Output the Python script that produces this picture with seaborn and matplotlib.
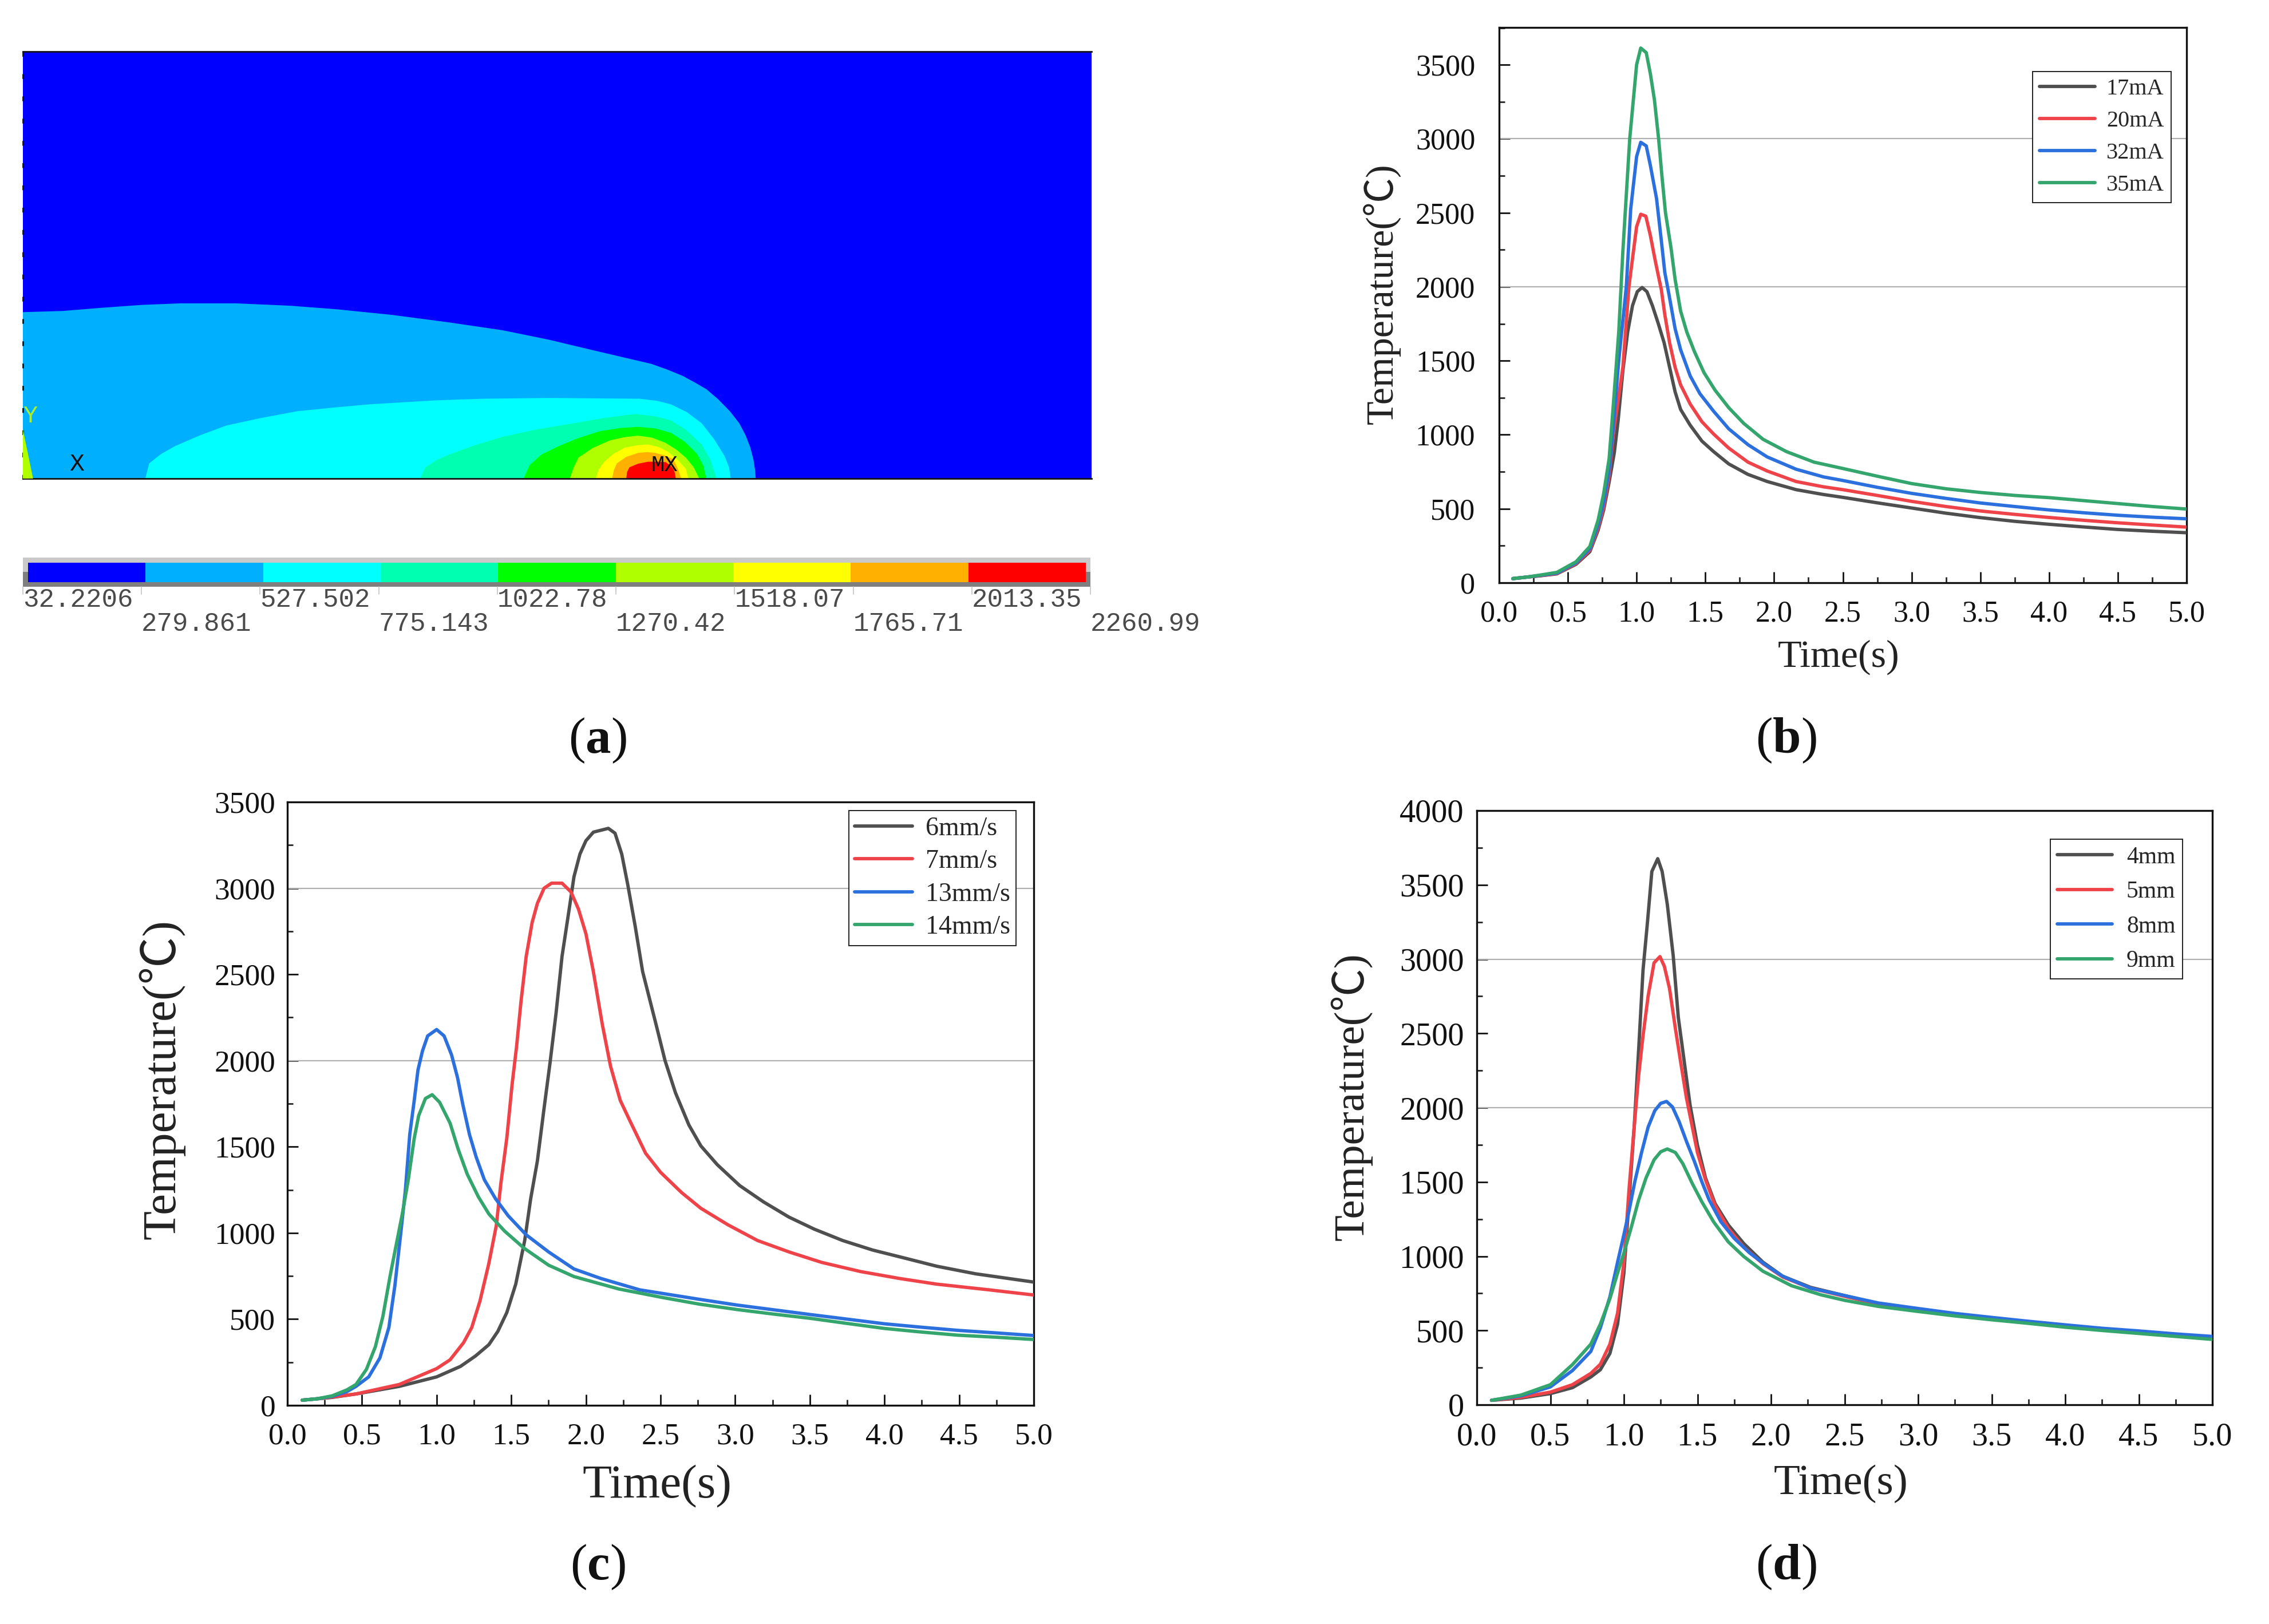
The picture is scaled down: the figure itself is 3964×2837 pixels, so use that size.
import numpy as np
import pandas as pd
import matplotlib
matplotlib.use("Agg")
import matplotlib.pyplot as plt
from matplotlib.colors import ListedColormap
import seaborn as sns

W, H = 3964, 2837
sns.set_style("ticks")
plt.rcParams["font.family"] = ["Liberation Serif", "Noto Sans CJK SC", "DejaVu Sans"]
plt.rcParams["mathtext.fontset"] = "custom"
plt.rcParams["mathtext.bf"] = "Liberation Serif:bold"
plt.rcParams["mathtext.rm"] = "Liberation Serif"

# ---------- panel (b): current ----------
tb35 = [.1,.2,.3,.42,.56,.66,.72,.76,.80,.83,.87,.90,.95,.97,1.0,1.03,1.07,1.10,1.13,1.16,1.185,1.21,1.25,1.28,1.32,1.365,1.42,1.49,1.57,1.67,1.78,1.92,2.09,2.29,2.5,2.75,3,3.25,3.5,3.75,4,4.25,4.5,4.75,5]
b35 = [28,38,52,70,142,245,423,600,838,1195,1694,2240,3000,3200,3500,3613,3582,3440,3260,3000,2740,2500,2264,2050,1836,1694,1563,1420,1302,1183,1076,969,886,815,772,720,670,635,610,590,575,555,535,515,498]
tb32 = [.1,.2,.3,.42,.56,.66,.72,.76,.80,.83,.87,.925,.957,1.0,1.03,1.07,1.10,1.145,1.18,1.205,1.234,1.28,1.32,1.39,1.46,1.56,1.67,1.81,1.95,2.16,2.36,2.5,2.75,3,3.25,3.5,3.75,4,4.25,4.5,4.75,5]
b32 = [28,38,50,65,135,230,390,540,760,1050,1500,2000,2525,2880,2976,2952,2820,2596,2310,2097,1955,1717,1575,1397,1278,1159,1040,933,850,767,715,691,645,604,570,539,515,492,473,456,443,432]
tb20 = [.1,.2,.3,.42,.56,.66,.72,.76,.80,.83,.90,.944,.977,1.0,1.03,1.067,1.10,1.137,1.18,1.205,1.24,1.28,1.32,1.39,1.475,1.56,1.67,1.81,1.95,2.16,2.36,2.5,2.75,3,3.25,3.5,3.75,4,4.25,4.5,4.75,5]
b20 = [28,38,48,62,130,220,370,510,720,1000,1456,2000,2240,2406,2490,2477,2347,2169,1979,1812,1622,1456,1337,1207,1088,1005,910,815,755,684,648,629,590,550,515,485,462,441,422,405,390,376]
tb17 = [.1,.2,.3,.42,.56,.66,.72,.76,.80,.838,.866,.90,.935,.97,1.005,1.04,1.075,1.115,1.157,1.2,1.24,1.28,1.32,1.39,1.475,1.56,1.67,1.81,1.95,2.16,2.36,2.5,2.75,3,3.25,3.5,3.75,4,4.25,4.5,4.75,5]
b17 = [28,38,47,60,125,210,355,490,680,880,1100,1432,1694,1872,1967,1995,1967,1872,1753,1622,1456,1290,1171,1064,957,886,803,732,684,629,596,577,540,505,470,440,415,395,377,360,348,338]
labels_b = ["17mA", "20mA", "32mA", "35mA"]

# ---------- panel (c): scan speed ----------
tc6 = [.1,.2,.3,.46,.75,1,1.16,1.26,1.35,1.41,1.47,1.53,1.59,1.63,1.675,1.72,1.76,1.80,1.84,1.89,1.92,1.96,2.0,2.05,2.10,2.15,2.195,2.24,2.28,2.33,2.38,2.47,2.53,2.60,2.69,2.77,2.88,3.03,3.19,3.36,3.53,3.72,3.92,4.15,4.35,4.61,5]
c6 = [30,38,46,66,110,165,226,286,352,429,538,703,956,1198,1418,1725,1989,2275,2604,2890,3066,3198,3275,3325,3336,3347,3319,3198,3022,2780,2516,2209,2000,1813,1626,1505,1396,1275,1180,1092,1022,956,901,851,807,763,715]
tc7 = [.1,.2,.3,.46,.75,1,1.09,1.18,1.235,1.29,1.35,1.40,1.43,1.47,1.505,1.535,1.565,1.60,1.64,1.675,1.72,1.77,1.84,1.90,1.95,2.0,2.05,2.11,2.165,2.23,2.29,2.40,2.5,2.64,2.77,2.95,3.15,3.36,3.58,3.84,4.10,4.35,4.70,5]
c7 = [30,38,48,66,121,213,264,363,451,604,824,1044,1286,1549,1857,2077,2341,2604,2802,2912,3000,3029,3029,2978,2879,2736,2516,2209,1967,1769,1659,1462,1352,1235,1143,1048,956,890,829,776,736,703,670,640]
tc13 = [.1,.2,.3,.4,.46,.545,.62,.68,.72,.76,.79,.82,.85,.875,.905,.94,1.0,1.05,1.10,1.14,1.175,1.22,1.265,1.32,1.395,1.48,1.60,1.75,1.92,2.10,2.36,2.76,3.01,3.25,3.5,3.75,4,4.25,4.49,4.75,5]
c13 = [30,38,52,80,110,165,275,451,692,1000,1242,1571,1769,1945,2055,2143,2180,2143,2033,1901,1747,1571,1440,1308,1198,1099,989,890,791,736,670,615,582,555,527,500,473,453,435,420,405]
tc14 = [.1,.2,.3,.4,.46,.53,.59,.64,.69,.735,.77,.81,.85,.88,.925,.97,1.02,1.09,1.145,1.205,1.28,1.35,1.455,1.585,1.75,1.92,2.22,2.51,2.76,3.01,3.25,3.5,3.75,4,4.25,4.49,4.75,5]
c14 = [30,38,55,90,121,209,341,516,758,956,1110,1308,1549,1681,1780,1802,1758,1637,1484,1341,1209,1110,1011,912,813,747,675,626,587,556,530,505,475,446,425,407,395,382]
labels_c = ["6mm/s", "7mm/s", "13mm/s", "14mm/s"]

# ---------- panel (d): spot size ----------
td4 = [.1,.3,.5,.65,.775,.84,.905,.957,1,1.035,1.07,1.10,1.13,1.16,1.19,1.23,1.26,1.295,1.335,1.37,1.41,1.45,1.50,1.555,1.62,1.71,1.815,1.945,2.08,2.27,2.5,2.73,3,3.25,3.5,3.75,4,4.25,4.5,4.75,5]
d4 = [30,45,75,115,187,236,346,543,887,1378,1870,2386,2926,3246,3590,3676,3590,3369,3025,2607,2312,2017,1747,1526,1354,1210,1085,960,865,790,735,680,640,607,580,553,530,505,485,465,445]
td5 = [.1,.3,.5,.65,.775,.84,.905,.957,1,1.035,1.07,1.10,1.13,1.165,1.205,1.245,1.275,1.31,1.35,1.385,1.425,1.465,1.50,1.555,1.62,1.71,1.815,1.945,2.08,2.27,2.5,2.73,3,3.25,3.5,3.75,4,4.25,4.5,4.75,5]
d5 = [30,50,85,135,211,273,408,617,960,1452,1870,2214,2484,2754,2975,3017,2951,2803,2533,2312,2066,1870,1698,1513,1342,1187,1060,950,860,785,730,678,638,605,578,552,528,503,483,463,443]
td8 = [.1,.3,.5,.65,.775,.84,.905,.957,1,1.035,1.074,1.12,1.165,1.21,1.25,1.29,1.33,1.375,1.426,1.48,1.53,1.58,1.66,1.75,1.855,1.97,2.08,2.27,2.5,2.73,3,3.25,3.5,3.75,4,4.25,4.5,4.75,5]
d8 = [30,60,120,230,359,518,727,960,1145,1305,1501,1698,1870,1980,2029,2042,2005,1907,1771,1636,1501,1378,1231,1120,1022,936,865,785,735,685,648,615,588,562,538,515,497,477,460]
td9 = [.1,.3,.5,.65,.775,.84,.905,.957,1,1.05,1.10,1.15,1.205,1.25,1.295,1.35,1.40,1.465,1.53,1.61,1.71,1.815,1.945,2.14,2.34,2.5,2.73,3,3.25,3.5,3.75,4,4.25,4.5,4.75,5]
d9 = [30,65,135,270,408,543,715,887,1022,1194,1378,1526,1649,1703,1722,1698,1624,1489,1366,1231,1096,998,899,801,740,703,662,628,598,572,548,522,500,480,460,440]
labels_d = ["4mm", "5mm", "8mm", "9mm"]

palette = ["#4f4f4f", "#ee4449", "#2b70dd", "#34a56c"]
xtick_vals = [0.0, 0.5, 1.0, 1.5, 2.0, 2.5, 3.0, 3.5, 4.0, 4.5, 5.0]

# ---------- panel (a): contour bands (outer to inner), in map units of the field ----------
band_colors = ["#00b0ff", "#00ffff", "#00ffb0", "#00ff00", "#b0ff00", "#ffff00", "#ffb000", "#ff0000"]
band_x = [
    [29,29,80,130,180,230,300,370,430,500,570,640,700,760,830,850,870,885,900,915,930,942,950,956,960,962,963],
    [185,190,205,223,255,288,330,379,425,470,555,614,700,815,837,855,875,894,910,923,929,931],
    [535,542,556,575,605,640,685,731,770,809,835,855,875,894,905,913],
    [667,675,690,712,737,764,790,813,835,855,873,888,896,900],
    [726,731,737,755,777,795,813,831,848,862,874,884,891],
    [759,763,770,782,796,812,826,840,851,864,874,877],
    [780,782,786,798,813,825,835,848,858,864,868],
    [798,799,802,813,826,838,848,854,858,860,861],
]
band_y = [
    [1108,693,690,682,675,671,671,677,686,700,718,738,762,790,822,836,852,868,885,910,940,970,1000,1030,1060,1085,1108],
    [1108,1070,1047,1027,1000,976,958,940,931,923,913,909,907,909,914,923,942,970,1010,1051,1080,1108],
    [1108,1080,1062,1046,1025,1004,985,970,957,947,953,963,988,1023,1060,1108],
    [1108,1074,1048,1027,1007,990,982,979,983,994,1017,1046,1075,1108],
    [1108,1080,1056,1032,1013,1005,1001,1006,1019,1036,1056,1080,1108],
    [1108,1085,1066,1046,1031,1025,1023,1030,1041,1062,1084,1108],
    [1108,1088,1070,1054,1044,1042,1044,1051,1060,1085,1108],
    [1108,1092,1080,1071,1066,1066,1067,1075,1084,1095,1108],
]
wedge_x = [29, 29, 42]
wedge_y = [1108, 985, 1108]
level_labels = ["32.2206", "279.861", "527.502", "775.143", "1022.78",
                "1270.42", "1518.07", "1765.71", "2013.35", "2260.99"]
level_colors = ["#0000ff"] + band_colors


def add_ax(l, t, r, b):
    return fig.add_axes([l / W, 1 - b / H, (r - l) / W, (b - t) / H])


def line_panel(box, ylim, ymajor, series, labels, tick_fs, label_fs, pads, xl_px, yl_px, leg_xy, leg_fs, leg_kw):
    l, t, r, b = box
    ax = add_ax(l, t, r, b)
    frames = [pd.DataFrame({"Time": s[0], "Temp": s[1], "Series": n}) for s, n in zip(series, labels)]
    df = pd.concat(frames, ignore_index=True)
    for g in [2000, 3000]:
        ax.axhline(g, color="#b0b0b0", lw=1.6, zorder=1)
    sns.lineplot(data=df, x="Time", y="Temp", hue="Series", hue_order=labels, palette=palette,
                 estimator=None, sort=False, lw=4.2, ax=ax, zorder=3)
    ax.set_xlim(0, 5)
    ax.set_ylim(*ylim)
    ax.set_xticks(xtick_vals)
    ax.set_xticklabels(["%.1f" % v for v in xtick_vals])
    ax.set_xticks(np.arange(0.25, 5, 0.5), minor=True)
    ax.set_yticks(ymajor)
    ax.set_yticks([v + 250 for v in ymajor if v + 250 < ylim[1]], minor=True)
    ax.tick_params(axis="both", which="major", direction="in", length=14, width=2, labelsize=tick_fs, colors="#111111")
    ax.tick_params(axis="both", which="minor", direction="in", length=7, width=2)
    ax.tick_params(axis="x", which="major", pad=pads[0])
    ax.tick_params(axis="y", which="major", pad=pads[1])
    for s in ax.spines.values():
        s.set_linewidth(2.4)
        s.set_color("#111111")
    ax.set_xlabel("")
    ax.set_ylabel("")
    fig.text(xl_px[0] / W, 1 - xl_px[1] / H, "Time(s)", ha="center", va="center", fontsize=label_fs, color="#222222")
    fig.text(yl_px[0] / W, 1 - yl_px[1] / H, "Temperature(℃)", ha="center", va="center", rotation=90,
             fontsize=label_fs, color="#222222")
    handles, names = ax.get_legend_handles_labels()
    leg = ax.legend(handles, names, loc="upper left",
                    bbox_to_anchor=((leg_xy[0] - l) / (r - l), 1 - (leg_xy[1] - t) / (b - t)),
                    fontsize=leg_fs, frameon=True, fancybox=False, framealpha=1, edgecolor="#222222",
                    borderaxespad=0, **leg_kw)
    leg.get_frame().set_linewidth(1.4)
    for h in leg.get_lines():
        h.set_linewidth(4.2)
    leg.set_zorder(5)
    return ax


fig = plt.figure(figsize=(W / 100, H / 100), dpi=100, facecolor="white")

# panel (a)
ax_a = add_ax(40, 90, 1907, 836)
ax_a.set_facecolor("#0000ff")
ax_a.set_xlim(29, 1391)
ax_a.set_ylim(1108, 43)
for bx, by, bc in zip(band_x, band_y, band_colors):
    ax_a.fill(bx, by, color=bc, lw=0, zorder=2)
ax_a.fill(wedge_x, wedge_y, color="#b0ff00", lw=0, zorder=3)
ax_a.set_xticks([])
ax_a.set_yticks([])
ax_a.spines["right"].set_visible(False)
ax_a.spines["left"].set_linestyle((0, (2, 12)))
for s in ax_a.spines.values():
    s.set_linewidth(2)
    s.set_color("#151515")
ax_a.text(38, 952, "Y", color="#a8ef30", fontsize=30, family="Liberation Mono", ha="center", va="center")
ax_a.text(98, 1072, "X", color="#101010", fontsize=31, family="Liberation Mono", ha="center", va="center")
ax_a.text(847, 1075, "MX", color="#101010", fontsize=28, family="Liberation Mono", ha="center", va="center")

# colour legend of panel (a)
frame = add_ax(40, 974, 1905, 1025)
frame.set_xlim(0, 1)
frame.set_ylim(0, 1)
frame.axis("off")
frame.axhspan(0.5, 1, color="#c9c9c9", lw=0)
frame.axhspan(0, 0.5, color="#7f7f7f", lw=0)
cb = add_ax(49, 983, 1897, 1017)
levels = np.arange(len(level_colors)).reshape(1, -1)
sns.heatmap(levels, ax=cb, cmap=ListedColormap(level_colors), cbar=False, xticklabels=False, yticklabels=False,
            linewidths=0)
for k, lab in enumerate(level_labels):
    px = 40 + k * (1905 - 40) / 9
    ypx = 1048 if k % 2 == 0 else 1090
    fig.text(px / W, 1 - ypx / H, lab, ha="left", va="center", fontsize=33, family="Liberation Mono", color="#4a4a4a")
    fig.add_artist(plt.Line2D([px / W, px / W], [1 - 1025 / H, 1 - 1038 / H], color="#c4c4c4", lw=1.2))

# panel (b)
line_panel((2619, 48, 3820, 1018), (0, 3752), [0, 500, 1000, 1500, 2000, 2500, 3000, 3500],
           [(tb17, b17), (tb20, b20), (tb32, b32), (tb35, b35)], labels_b, 37.5, 49, (22, 30), (3212, 1148), (2415, 513),
           (3551, 125), 29, dict(handlelength=2.4, handletextpad=0.5, labelspacing=0.465, borderpad=0.3))

# panel (c)
line_panel((502, 1401, 1806, 2455), (0, 3500), [0, 500, 1000, 1500, 2000, 2500, 3000, 3500],
           [(tc6, c6), (tc7, c7), (tc13, c13), (tc14, c14)], labels_c, 38.5, 60, (22, 15), (1148, 2597), (283, 1886),
           (1483, 1416), 33, dict(handlelength=2.2, handletextpad=0.5, labelspacing=0.33, borderpad=0.22))

# panel (d)
line_panel((2580, 1416, 3865, 2454), (0, 4000), [0, 500, 1000, 1500, 2000, 2500, 3000, 3500, 4000],
           [(td4, d4), (td5, d5), (td8, d8), (td9, d9)], labels_d, 40.5, 54, (22, 16), (3216, 2592), (2361, 1916),
           (3582, 1466), 30, dict(handlelength=2.3, handletextpad=0.6, labelspacing=0.53, borderpad=0.29))

# captions
captions = [("a", 1044, 1294), ("b", 3120, 1294), ("c", 1044, 2738), ("d", 3120, 2738)]
for letter, cx, cy in captions:
    fig.text(cx / W, 1 - cy / H, "($\\mathbf{%s}$)" % letter, ha="center", va="center", fontsize=64, color="#111111")

fig.savefig("out.png", dpi=100, facecolor="white")
